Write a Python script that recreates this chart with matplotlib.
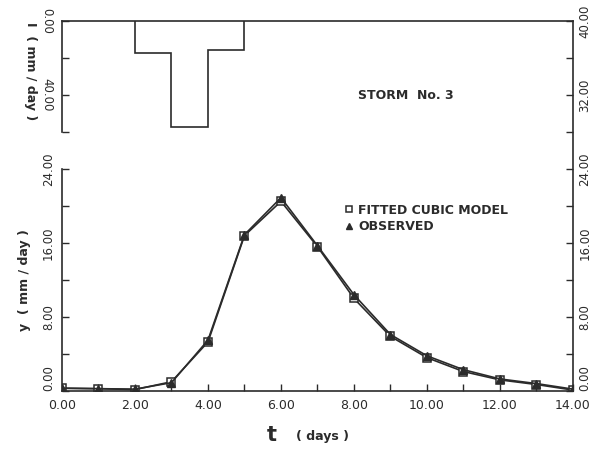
import numpy as np
import matplotlib.pyplot as plt
from matplotlib.ticker import FixedLocator

# storm no. 3 data
t = np.arange(0, 15)
observed = [0.3, 0.25, 0.2, 0.9, 5.5, 16.9, 20.9, 15.7, 10.4, 6.1, 3.8, 2.3, 1.3, 0.8, 0.2]
fitted = [0.3, 0.25, 0.15, 1.0, 5.3, 16.8, 20.5, 15.6, 10.0, 5.9, 3.6, 2.1, 1.2, 0.7, 0.1]
xticks = [0, 2, 4, 6, 8, 10, 12, 14]
yticks_left = [0, 8, 16, 24]
yticks_right = [0, 8, 16, 24, 32, 40]
rain_edges = [2, 3, 4, 5]
rain = [17.3, 57.3, 15.7]

ink = '#2b2b2b'
plt.rcParams['font.family'] = 'DejaVu Sans'

fig = plt.figure(figsize=(6, 4.49), dpi=100)
ax = fig.add_axes([0.1033, 0.1292, 0.8517, 0.824])
ax.patch.set_alpha(0)

ax.plot(t, fitted, color=ink, lw=1.2, marker='s', ms=5.5, mfc='white', mec=ink, mew=1.1,
        label='FITTED CUBIC MODEL')
ax.plot(t, observed, color=ink, lw=1.2, marker='^', ms=5.5, mfc=ink, mec=ink,
        label='OBSERVED')

ax.set_xlim(0, 14)
ax.set_ylim(0, 40)
ax.set_xticks(xticks)
ax.set_xticks(range(0, 15), minor=True)
ax.set_xticklabels(['%.2f' % v for v in xticks], fontsize=9, color=ink)
ax.set_yticks(yticks_left)
ax.yaxis.set_minor_locator(FixedLocator([4, 12, 20]))
ax.set_yticklabels(['%.2f' % v for v in yticks_left], fontsize=8.5, rotation=90,
                   va='center', color=ink)
ax.get_yticklabels()[0].set_va('bottom')
ax.tick_params(which='both', direction='in', length=5, width=1, color=ink)
ax.tick_params(axis='x', pad=6)
ax.tick_params(axis='y', pad=5)
ax.spines['left'].set_bounds(0, 24)
for s in ax.spines.values():
    s.set_color(ink)
    s.set_linewidth(1.2)

ax.set_ylabel('y  ( mm / day )', fontsize=9, color=ink, fontweight='bold', labelpad=4)
ax.yaxis.set_label_coords(-0.06, 0.3)
ax.set_xlabel('t', fontsize=15, color=ink, fontweight='bold')
ax.xaxis.set_label_coords(0.411, -0.092)
ax.text(0.458, -0.124, '( days )', transform=ax.transAxes, fontsize=9, color=ink,
        fontweight='bold', ha='left', va='center')

axr = ax.twinx()
axr.set_ylim(0, 40)
axr.set_yticks(yticks_right)
axr.yaxis.set_minor_locator(FixedLocator([4, 12, 20, 28, 36]))
axr.set_yticklabels(['%.2f' % v for v in yticks_right], fontsize=8.5, rotation=90,
                    va='center', color=ink)
axr.get_yticklabels()[0].set_va('bottom')
axr.tick_params(which='both', direction='in', length=5, width=1, color=ink, pad=4)
for s in axr.spines.values():
    s.set_visible(False)

leg = ax.legend(loc='upper left', bbox_to_anchor=(0.545, 0.52), frameon=False,
                handlelength=0.6, handletextpad=0.4, labelspacing=0.3,
                prop={'size': 9, 'weight': 'bold'}, borderaxespad=0)
for txt in leg.get_texts():
    txt.set_color(ink)
for h in leg.legend_handles:
    h.set_linestyle('none')
    h.set_markersize(5)

# rainfall panel (inverted axis)
axt = fig.add_axes([0.1033, 0.706, 0.8517, 0.2472])
axt.patch.set_alpha(0)
axt.stairs(rain, rain_edges, baseline=0, color=ink, lw=1.2)
axt.set_xlim(0, 14)
axt.set_ylim(60, 0)
for side in ['top', 'right', 'bottom']:
    axt.spines[side].set_visible(False)
axt.spines['left'].set_color(ink)
axt.spines['left'].set_linewidth(1.2)
axt.set_xticks([])
axt.set_yticks([0, 20, 40, 60])
axt.set_yticklabels(['0.00', '', '40.00', ''], fontsize=8.5, rotation=270, va='center',
                    color=ink)
axt.tick_params(direction='in', length=5, width=1, color=ink, pad=6)
axt.set_ylabel('I  ( mm / day )', fontsize=9, color=ink, fontweight='bold', rotation=270)
axt.yaxis.set_label_coords(-0.075, 0.55)
axt.text(0.58, 0.3, 'STORM  No. 3', transform=axt.transAxes, fontsize=9, color=ink,
         fontweight='bold')

fig.savefig('out.png', dpi=100)
